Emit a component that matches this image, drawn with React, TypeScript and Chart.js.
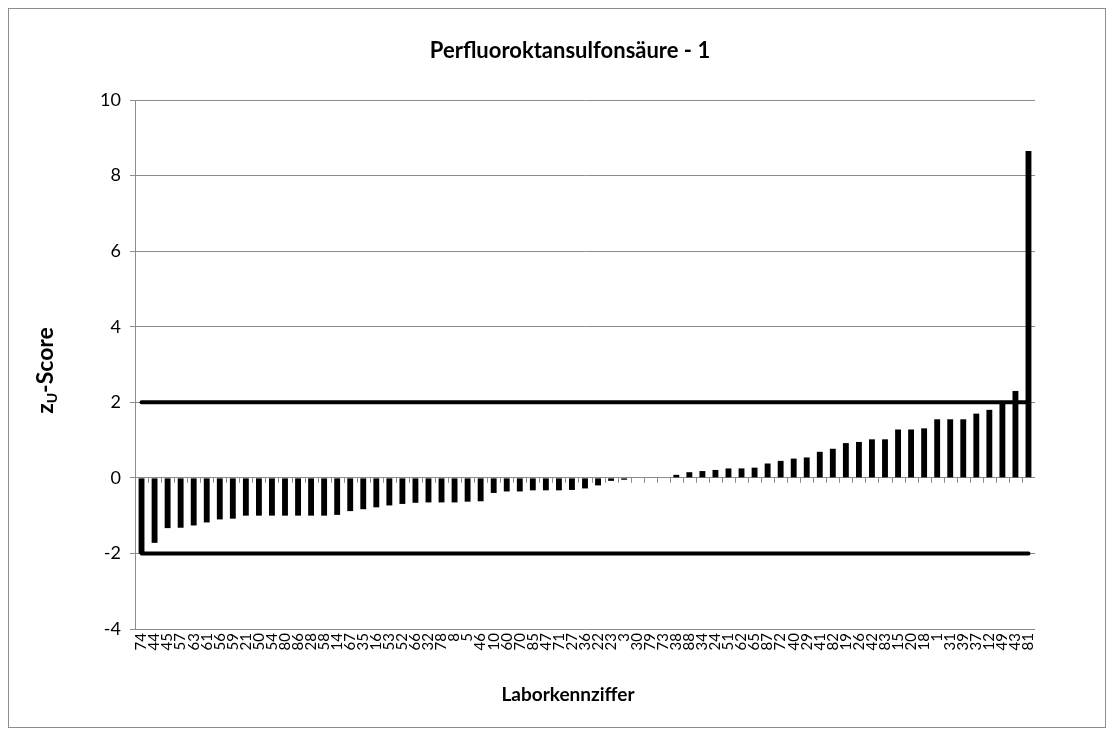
import React, { useEffect, useRef } from "react";
import { Chart, registerables } from "chart.js";

Chart.register(...registerables);

const labCodes = [
  "74", "44", "45", "57", "63", "61", "56", "59", "21", "50", "54", "80", "86", "28", "58", "14", "67", "35", "16", "53",
  "52", "66", "32", "78", "8", "5", "46", "10", "60", "70", "85", "47", "71", "27", "36", "22", "23", "3",
  "30", "79", "73", "38", "88", "34", "24", "51", "62", "65", "87", "72", "40", "29", "41", "82", "19", "26", "42", "83",
  "15", "20", "18", "1", "31", "39", "37", "12", "49", "43", "81",
];

const zScores = [
  -2.0, -1.72, -1.33, -1.32, -1.26, -1.18, -1.1, -1.08, -1.0, -1.0, -1.0, -1.0, -1.0, -1.0, -1.0, -0.98, -0.88, -0.83, -0.78, -0.73,
  -0.69, -0.66, -0.65, -0.65, -0.65, -0.63, -0.62, -0.4, -0.36, -0.36, -0.33, -0.33, -0.33, -0.32, -0.28, -0.2, -0.08, -0.05,
  0, 0, 0,
  0.08, 0.15, 0.18, 0.21, 0.25, 0.25, 0.27, 0.38, 0.45, 0.51, 0.54, 0.69, 0.77, 0.92, 0.95, 1.02, 1.02, 1.28, 1.28, 1.31,
  1.55, 1.55, 1.55, 1.7, 1.8, 2.0, 2.3, 8.65,
];

const limitValues = [2, -2];
const yMin = -4;
const yMax = 10;
const yStep = 2;

const chartTitle = "Perfluoroktansulfonsäure - 1";
const xTitle = "Laborkennziffer";
const yTitleMain = "z";
const yTitleSub = "U";
const yTitleRest = "-Score";

const FONT = "Lato, 'Open Sans', 'DejaVu Sans', sans-serif";

export default function App() {
  const canvasRef = useRef<HTMLCanvasElement | null>(null);

  useEffect(() => {
    const canvas = canvasRef.current;
    if (!canvas) return;

    const overlay = {
      id: "overlay",
      afterDatasetsDraw(chart: any) {
        const { ctx, chartArea, scales } = chart;
        const x = scales.x;
        const y = scales.y;
        const n = labCodes.length;
        ctx.save();
        // category tick marks below zero line
        const y0 = y.getPixelForValue(0);
        ctx.strokeStyle = "#8c8c8c";
        ctx.lineWidth = 1;
        for (let i = 0; i < n - 1; i++) {
          const px = Math.round((x.getPixelForValue(i) + x.getPixelForValue(i + 1)) / 2) + 0.5;
          ctx.beginPath();
          ctx.moveTo(px, y0);
          ctx.lineTo(px, y0 + 5);
          ctx.stroke();
        }
        // limit lines
        ctx.strokeStyle = "#000";
        ctx.lineWidth = 4;
        ctx.lineCap = "round";
        for (const v of limitValues) {
          const py = y.getPixelForValue(v);
          ctx.beginPath();
          ctx.moveTo(x.getPixelForValue(0), py);
          ctx.lineTo(x.getPixelForValue(n - 1), py);
          ctx.stroke();
        }
        ctx.restore();

        // chart title
        ctx.save();
        ctx.fillStyle = "#000";
        ctx.textAlign = "center";
        ctx.textBaseline = "middle";
        ctx.font = `bold 22px ${FONT}`;
        ctx.fillText(chartTitle, 561, 42);
        // x axis title
        ctx.font = `bold 19px ${FONT}`;
        ctx.fillText(xTitle, 559, 686);
        ctx.restore();

        // y axis title with subscript
        ctx.save();
        const cy = (chartArea.top + chartArea.bottom) / 2 + 6;
        const cx = 37;
        ctx.fillStyle = "#000";
        ctx.textBaseline = "middle";
        ctx.textAlign = "left";
        const mainFont = `bold 23px ${FONT}`;
        const subFont = `bold 14px ${FONT}`;
        ctx.font = mainFont;
        const w1 = ctx.measureText(yTitleMain).width;
        const w3 = ctx.measureText(yTitleRest).width;
        ctx.font = subFont;
        const w2 = ctx.measureText(yTitleSub).width;
        const total = w1 + w2 + w3;
        ctx.translate(cx, cy);
        ctx.rotate(-Math.PI / 2);
        let tx = -total / 2;
        ctx.font = mainFont;
        ctx.fillText(yTitleMain, tx, 0);
        tx += w1;
        ctx.font = subFont;
        ctx.fillText(yTitleSub, tx, 6);
        tx += w2;
        ctx.font = mainFont;
        ctx.fillText(yTitleRest, tx, 0);
        ctx.restore();
      },
    };

    const chart = new Chart(canvas, {
      type: "bar",
      data: {
        labels: labCodes,
        datasets: [
          {
            data: zScores,
            backgroundColor: "#000",
            borderWidth: 0,
            barPercentage: 0.45,
            categoryPercentage: 1,
          },
        ],
      },
      options: {
        animation: false,
        responsive: false,
        maintainAspectRatio: false,
        layout: { padding: { left: 0, right: 70, top: 91, bottom: 0 } },
        plugins: {
          legend: { display: false },
          tooltip: { enabled: false },
          title: { display: false },
        },
        scales: {
          x: {
            offset: true,
            grid: { display: false, drawTicks: false },
            border: { display: false },
            ticks: {
              autoSkip: false,
              maxRotation: 90,
              minRotation: 90,
              padding: 4,
              color: "#000",
              font: { family: FONT, size: 15 },
            },
            afterFit: (s: any) => {
              s.height = 98;
            },
          },
          y: {
            min: yMin,
            max: yMax,
            grid: { color: "#8c8c8c", lineWidth: 1, tickLength: 5 },
            border: { color: "#8c8c8c", width: 1 },
            ticks: {
              stepSize: yStep,
              padding: 9,
              color: "#000",
              font: { family: FONT, size: 18 },
            },
            afterFit: (s: any) => {
              s.width = 126;
            },
          },
        },
      },
      plugins: [overlay],
    });

    return () => chart.destroy();
  }, []);

  return (
    <div
      style={{
        width: 1098,
        height: 720,
        border: "1px solid #8c8c8c",
        boxSizing: "border-box",
        background: "#fff",
      }}
    >
      <canvas ref={canvasRef} width={1096} height={718} style={{ display: "block" }} />
    </div>
  );
}
